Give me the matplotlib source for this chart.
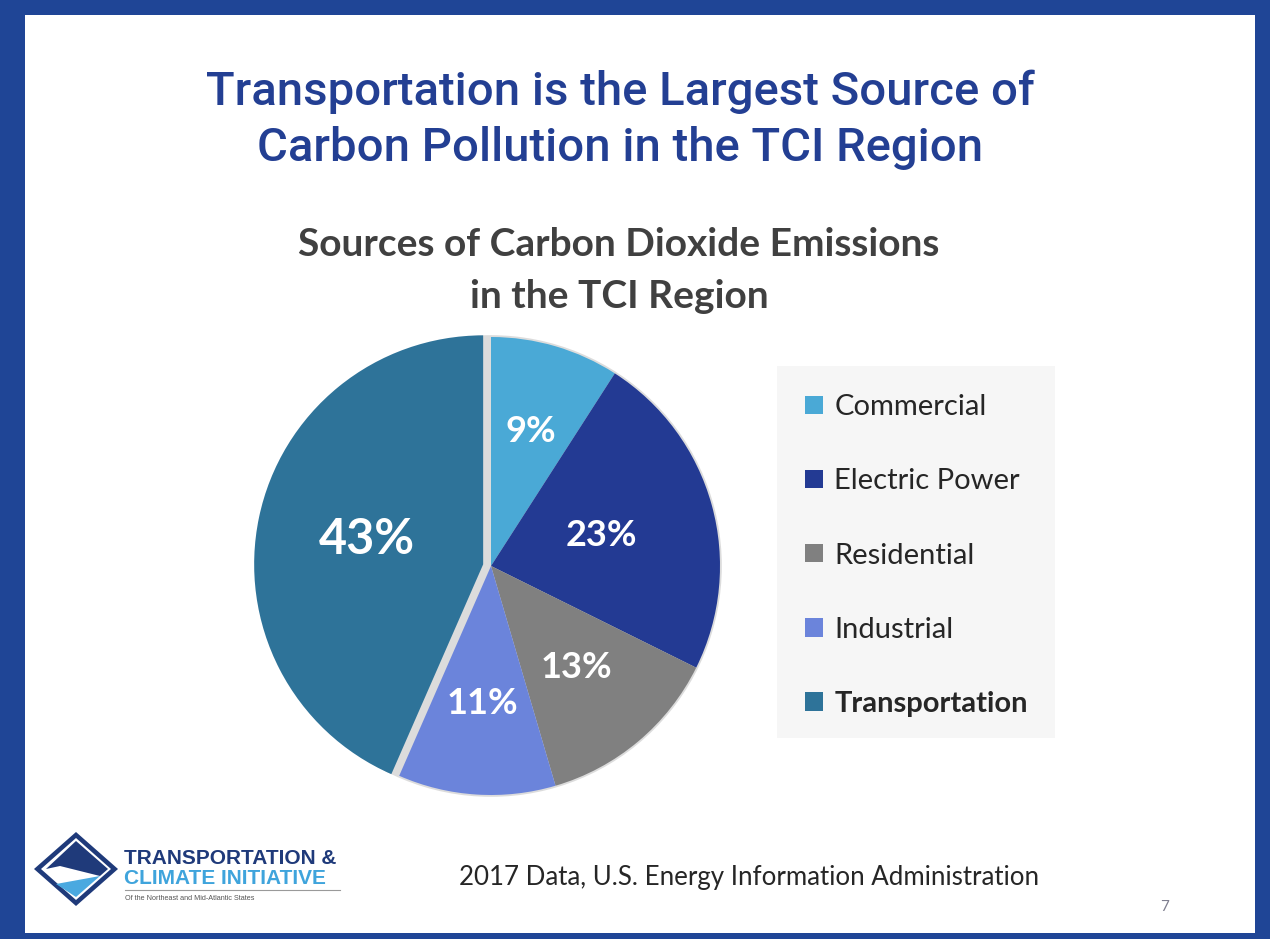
import numpy as np
import matplotlib.pyplot as plt
from matplotlib.patches import Rectangle, Polygon, Circle

# data
sources = ['Commercial', 'Electric Power', 'Residential', 'Industrial', 'Transportation']
shares = [9, 23, 13, 11, 43]
colors = ['#4aa9d6', '#233a93', '#808080', '#6b84db', '#2e7399']
explode = [0, 0, 0, 0, 0.035]
label_r = [0.61, 0.50, 0.58, 0.60, 0.52]  # radial placement of the % labels

title_lines = ['Transportation is the Largest Source of', 'Carbon Pollution in the TCI Region']
subtitle_lines = ['Sources of Carbon Dioxide Emissions', 'in the TCI Region']
source_note = '2017 Data, U.S. Energy Information Administration'

title_font = ['Roboto', 'DejaVu Sans']
body_font = ['Lato', 'DejaVu Sans']
logo_font = ['Liberation Sans', 'DejaVu Sans']

W, H = 1270, 939
fig = plt.figure(figsize=(W / 100, H / 100), dpi=100)
fig.patch.set_facecolor('white')

# overlay axes in pixel coords for the slide decoration
deco = fig.add_axes([0, 0, 1, 1])
deco.set_xlim(0, W)
deco.set_ylim(H, 0)
deco.axis('off')

navy = '#1f4596'
deco.add_patch(Rectangle((0, 0), W, H, facecolor=navy, edgecolor='none', zorder=0))
deco.add_patch(Rectangle((25, 15), 1230, 918, facecolor='white', edgecolor='none', zorder=1))

for i, line in enumerate(title_lines):
    deco.text(620, 92 + 56 * i, line, ha='center', va='center', fontsize=34,
              fontweight='medium', color='#233f93', family=title_font, zorder=3)

for i, line in enumerate(subtitle_lines):
    deco.text(619, 245 + 52 * i, line, ha='center', va='center', fontsize=28,
              fontweight='bold', color='#404040', family=body_font, zorder=3)

# legend background
deco.add_patch(Rectangle((777, 366), 278, 372, facecolor='#f6f6f6', edgecolor='none', zorder=2))

deco.text(749, 878, source_note, ha='center', va='center', fontsize=18.6,
          color='#262626', family=body_font, zorder=3)
deco.text(1165, 907, '7', ha='center', va='center', fontsize=11,
          color='#7f7f8f', family=body_font, zorder=3)

# logo
deco.add_patch(Polygon([(76, 832), (118, 869), (76, 906), (34, 869)], closed=True,
                       facecolor='#1f3a7a', edgecolor='none', zorder=3))
deco.add_patch(Polygon([(76, 838), (111, 869), (76, 900), (41, 869)], closed=True,
                       facecolor='white', edgecolor='none', zorder=4))
deco.add_patch(Polygon([(76, 841), (108, 869), (100, 876), (60, 866), (46, 869)], closed=True,
                       facecolor='#1f3a7a', edgecolor='none', zorder=5))
deco.add_patch(Polygon([(56, 884), (100, 876), (76, 897)], closed=True,
                       facecolor='#4aa9e0', edgecolor='none', zorder=5))
deco.text(124, 858, 'TRANSPORTATION &', ha='left', va='center', fontsize=15,
          fontweight='bold', color='#1f3a7a', family=logo_font, zorder=5)
deco.text(124, 878, 'CLIMATE INITIATIVE', ha='left', va='center', fontsize=15,
          fontweight='bold', color='#3fa4dc', family=logo_font, zorder=5)
deco.plot([125, 340], [890, 890], color='#9a9a9a', lw=0.8, zorder=5)
deco.text(125, 898, 'Of the Northeast and Mid-Atlantic States', ha='left', va='center',
          fontsize=5.2, color='#555555', family=logo_font, zorder=5)

# pie
cx, cy, R = 491, 566, 229
pad = 1.08
ax = fig.add_axes([(cx - R * pad) / W, (H - cy - R * pad) / H, 2 * R * pad / W, 2 * R * pad / H])
ax.set_zorder(3)
ax.add_patch(Circle((0, 0), 1.008, facecolor='#dcdcdc', edgecolor='none', zorder=0))

total = sum(shares)
wedges, _, autotexts = ax.pie(
    shares, colors=colors, explode=explode, startangle=90, counterclock=False,
    radius=1, autopct=lambda p: f'{p * total / 100:.0f}%', pctdistance=0.58,
    wedgeprops=dict(edgecolor='none', zorder=1),
    textprops=dict(color='white', fontweight='bold', family=body_font, fontsize=26))
autotexts[4].set_fontsize(35)
for w, t, r in zip(wedges, autotexts, label_r):
    ang = np.deg2rad((w.theta1 + w.theta2) / 2)
    t.set_position((w.center[0] + r * np.cos(ang), w.center[1] + r * np.sin(ang)))
ax.set_xlim(-pad, pad)
ax.set_ylim(-pad, pad)
ax.axis('off')

leg = fig.legend(wedges, sources, loc='upper left',
                 bbox_to_anchor=(779 / W, 1 - 368 / H), frameon=False,
                 handlelength=0.6, handleheight=0.6, handletextpad=0.4,
                 labelspacing=1.65, prop=dict(family=body_font, size=21))
for t in leg.get_texts():
    t.set_color('#262626')
leg.get_texts()[4].set_fontweight('bold')
leg.set_zorder(5)

fig.savefig('out.png', dpi=100)
